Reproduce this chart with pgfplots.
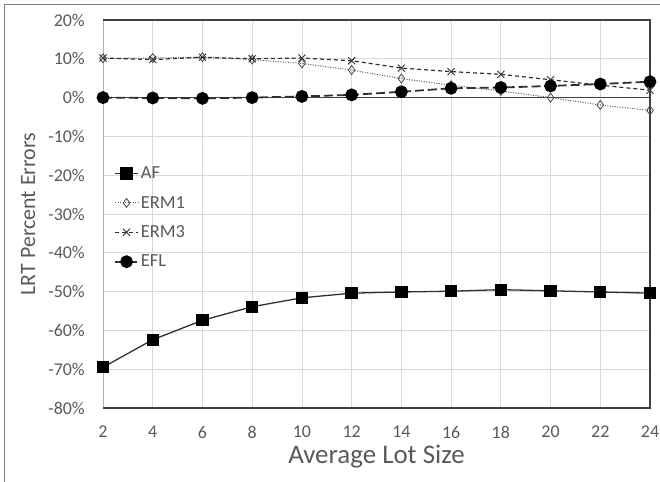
\documentclass[border=0pt]{standalone}
\usepackage{fontspec}
\setmainfont{Carlito}
\usepackage{pgfplots}
\pgfplotsset{compat=1.18}
\definecolor{txtgray}{HTML}{595959}
\definecolor{gridgray}{HTML}{D9D9D9}
\definecolor{framegray}{HTML}{7F7F7F}
\definecolor{linedark}{HTML}{303030}

\begin{document}
\begin{tikzpicture}
\path[use as bounding box] (0,0) rectangle (660bp,482bp);
% chart frame
\draw[framegray, line width=1.2bp] (4.5bp,0) -- (4.5bp,477.5bp) -- (660bp,477.5bp);
\begin{axis}[
  at={(103bp,74bp)}, anchor=south west,
  scale only axis, width=547bp, height=388bp,
  xmin=2, xmax=24, ymin=-80, ymax=20,
  xtick={2,4,...,24}, ytick={-80,-70,...,20},
  grid=major, major grid style={gridgray, line width=0.8bp},
  axis line style={draw=none},
  major tick length=0pt,
  clip=false,
  tick label style={font=\fontsize{18}{20}\selectfont, text=txtgray},
  /pgf/number format/assume math mode=true,
  yticklabel={\pgfmathprintnumber{\tick}\%},
  yticklabel style={inner sep=0pt, xshift=-18bp, anchor=east},
  xticklabel style={inner sep=0pt, yshift=-18bp, anchor=north},
  xlabel={Average Lot Size}, ylabel={LRT Percent Errors},
  xlabel style={font=\fontsize{27}{30}\selectfont, text=txtgray,
    at={(axis description cs:0.5,-0.142)}, anchor=base},
  ylabel style={font=\fontsize{22}{26}\selectfont, text=txtgray,
    at={(axis description cs:-0.1243,0.5)}, anchor=base},
  legend style={at={(axis description cs:0.02,0.627)}, anchor=north west,
    draw=none, fill=none, font=\fontsize{18.5}{20}\selectfont, text=txtgray,
    row sep=12bp, inner sep=0pt, cells={anchor=west}},
  legend image code/.code={\draw[mark repeat=2, mark phase=2]
    plot coordinates {(0bp,0bp)(11.5bp,0bp)(23bp,0bp)};},
]
% plot area border and zero line
\draw[gray!60, line width=1bp] (rel axis cs:0,0) -- (rel axis cs:0,1);
\draw[black!75, line width=1.2bp] (rel axis cs:0,1) -- (rel axis cs:1,1) -- (rel axis cs:1,0) -- (rel axis cs:0,0);
\draw[black!75, line width=1.2bp] (axis cs:2,0) -- (axis cs:24,0);

\addplot[linedark, line width=1.3bp, mark=square*, mark size=5.5bp,
  mark options={solid, fill=black, draw=black}] coordinates {
  (2,-69.5) (4,-62.4) (6,-57.4) (8,-53.9) (10,-51.6) (12,-50.4)
  (14,-50.1) (16,-49.9) (18,-49.5) (20,-49.8) (22,-50.1) (24,-50.4)};
\addlegendentry{AF}

\addplot[black!65, line width=1bp, dash pattern=on 1bp off 1.5bp, mark=diamond, mark size=4.5bp,
  mark options={solid, fill=white, draw=black!70, line width=0.8bp}] coordinates {
  (2,10.1) (4,10.2) (6,10.4) (8,9.8) (10,8.8) (12,7.1)
  (14,4.9) (16,3.2) (18,1.7) (20,0.0) (22,-1.9) (24,-3.3)};
\addlegendentry{ERM1}

\addplot[linedark, line width=1.2bp, dash pattern=on 4bp off 3bp, mark=x, mark size=5bp,
  mark options={solid, draw=black!80, line width=0.9bp}] coordinates {
  (2,10.2) (4,9.8) (6,10.4) (8,10.0) (10,10.2) (12,9.5)
  (14,7.6) (16,6.7) (18,6.0) (20,4.6) (22,3.2) (24,1.9)};
\addlegendentry{ERM3}

\addplot[linedark, line width=1.8bp, dash pattern=on 9bp off 4bp, mark=*, mark size=5.5bp,
  mark options={solid, fill=black, draw=black}] coordinates {
  (2,0.0) (4,-0.1) (6,-0.2) (8,0.0) (10,0.3) (12,0.7)
  (14,1.5) (16,2.4) (18,2.6) (20,3.0) (22,3.5) (24,4.1)};
\addlegendentry{EFL}
\end{axis}
\end{tikzpicture}
\end{document}
